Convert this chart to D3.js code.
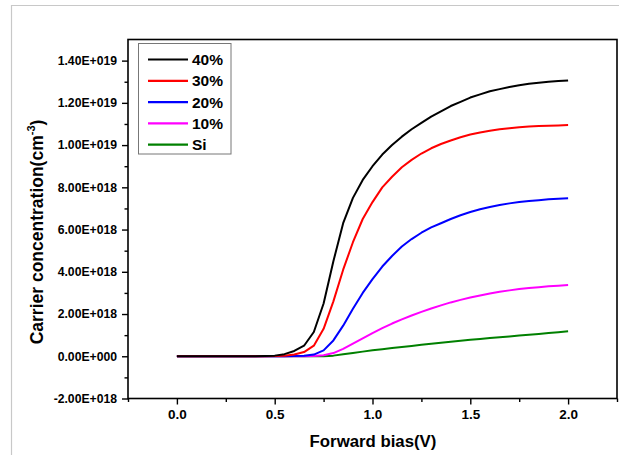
<!DOCTYPE html>
<html>
<head>
<meta charset="utf-8">
<script src="https://cdn.jsdelivr.net/npm/d3@7"></script>
<style>
  html, body { margin: 0; padding: 0; background: #fff; }
  svg { display: block; font-family: "Liberation Sans", Arial, sans-serif; }
</style>
</head>
<body>
<svg id="chart" width="619" height="455"></svg>
<script>
// Forward bias sweep (V)
const bias = [0.00,0.05,0.10,0.15,0.20,0.25,0.30,0.35,0.40,0.45,
              0.50,0.55,0.60,0.65,0.70,0.75,0.80,0.85,0.90,0.95,
              1.00,1.05,1.10,1.15,1.20,1.25,1.30,1.35,1.40,1.45,
              1.50,1.55,1.60,1.65,1.70,1.75,1.80,1.85,1.90,1.95,2.00];

// Carrier concentration, in units of 1e18 cm^-3
const conc40 = [0,0,0,0,0,0,0,0,0,0.01,
                0.03,0.10,0.25,0.50,1.15,2.50,4.50,6.30,7.50,8.35,
                9.00,9.55,10.00,10.40,10.75,11.05,11.35,11.60,11.85,12.05,
                12.25,12.40,12.55,12.65,12.75,12.83,12.90,12.95,13.00,13.03,13.06];
const conc30 = [0,0,0,0,0,0,0,0,0,0,
                0.01,0.03,0.08,0.20,0.50,1.30,2.60,4.10,5.40,6.50,
                7.30,8.00,8.50,8.95,9.30,9.60,9.85,10.05,10.22,10.37,
                10.50,10.60,10.68,10.75,10.80,10.85,10.88,10.90,10.92,10.93,10.95];
const conc20 = [0,0,0,0,0,0,0,0,0,0,
                0,0,0.01,0.03,0.08,0.28,0.75,1.45,2.25,3.00,
                3.65,4.25,4.75,5.20,5.55,5.85,6.10,6.30,6.50,6.68,
                6.83,6.96,7.07,7.16,7.24,7.30,7.35,7.39,7.43,7.46,7.48];
const conc10 = [0,0,0,0,0,0,0,0,0,0,
                0,0,0,0,0.01,0.05,0.15,0.35,0.60,0.85,
                1.10,1.33,1.55,1.75,1.93,2.10,2.26,2.41,2.55,2.67,
                2.78,2.88,2.97,3.05,3.12,3.18,3.23,3.27,3.31,3.34,3.37];
const concSi = [0,0,0,0,0,0,0,0,0,0,
                0,0,0,0,0,0,0.03,0.10,0.16,0.22,
                0.28,0.33,0.39,0.44,0.49,0.54,0.59,0.64,0.69,0.73,
                0.78,0.82,0.86,0.90,0.94,0.98,1.02,1.06,1.10,1.14,1.18];

const seriesNames  = ["40%", "30%", "20%", "10%", "Si"];
const seriesValues = [conc40, conc30, conc20, conc10, concSi];
const seriesColors = ["#000000", "#ff0000", "#0000ff", "#ff00ff", "#008000"];

const xTicks      = [0.0, 0.5, 1.0, 1.5, 2.0];
const xMinorTicks = [-0.25, 0.25, 0.75, 1.25, 1.75, 2.25];
const yTicks      = [-2, 0, 2, 4, 6, 8, 10, 12, 14];
const yMinorTicks = [-1, 1, 3, 5, 7, 9, 11, 13];

const svg = d3.select("#chart");

// page border
svg.append("path")
  .attr("d", "M11.5,455 V5.5 H619")
  .attr("fill", "none")
  .attr("stroke", "#c8c8c8")
  .attr("stroke-width", 1.2);

const plot = { left: 128, right: 617, top: 39.5, bottom: 398.5 };

const x = d3.scaleLinear().domain([-0.25, 2.25]).range([plot.left, plot.right]);
const y = d3.scaleLinear().domain([-2, 15]).range([plot.bottom, plot.top]);

// 1e18-unit value -> "1.40E+019" style label
function sci(v) {
  if (v === 0) return "0.00E+000";
  const val = v * 1e18;
  const sign = val < 0 ? "-" : "";
  const a = Math.abs(val);
  const e = Math.floor(Math.log10(a) + 1e-9);
  const m = a / Math.pow(10, e);
  return sign + m.toFixed(2) + "E" + (e >= 0 ? "+" : "-") + String(Math.abs(e)).padStart(3, "0");
}

// axes
const gx = svg.append("g").attr("transform", `translate(0,${plot.bottom})`)
  .call(d3.axisBottom(x).tickValues(xTicks).tickFormat(d3.format(".1f")).tickSize(6).tickSizeOuter(0).tickPadding(5));
const gxm = svg.append("g").attr("transform", `translate(0,${plot.bottom})`)
  .call(d3.axisBottom(x).tickValues(xMinorTicks).tickFormat("").tickSize(3.5).tickSizeOuter(0));
const gy = svg.append("g").attr("transform", `translate(${plot.left},0)`)
  .call(d3.axisLeft(y).tickValues(yTicks).tickFormat(sci).tickSize(6).tickSizeOuter(0).tickPadding(5));
const gym = svg.append("g").attr("transform", `translate(${plot.left},0)`)
  .call(d3.axisLeft(y).tickValues(yMinorTicks).tickFormat("").tickSize(3.5).tickSizeOuter(0));

[gx, gxm, gy, gym].forEach(g => {
  g.select(".domain").remove();
  g.selectAll(".tick line").attr("stroke", "#000").attr("stroke-width", 1.4);
});
gx.selectAll("text").attr("font-size", 13.5).attr("font-weight", "bold").attr("fill", "#000")
  .attr("font-family", "'Liberation Sans', Arial, sans-serif");
gy.selectAll("text").attr("font-size", 12.2).attr("font-weight", "bold").attr("fill", "#000")
  .attr("font-family", "'Liberation Sans', Arial, sans-serif");

// curves
const line = d3.line()
  .x((d, i) => x(bias[i]))
  .y(d => y(d));

svg.append("g").selectAll("path")
  .data(seriesValues.slice().reverse())
  .join("path")
  .attr("d", d => line(d))
  .attr("fill", "none")
  .attr("stroke", (d, i) => seriesColors[seriesColors.length - 1 - i])
  .attr("stroke-width", 2)
  .attr("stroke-linejoin", "round");

// plot frame
svg.append("rect")
  .attr("x", plot.left).attr("y", plot.top)
  .attr("width", plot.right - plot.left).attr("height", plot.bottom - plot.top)
  .attr("fill", "none").attr("stroke", "#000").attr("stroke-width", 1.6);

// legend
const lg = svg.append("g");
lg.append("rect")
  .attr("x", 138.5).attr("y", 43.5).attr("width", 92.5).attr("height", 110.5)
  .attr("fill", "#fff").attr("stroke", "#777").attr("stroke-width", 1);
seriesNames.forEach((name, i) => {
  const cy = 59.5 + i * 21.3;
  lg.append("line")
    .attr("x1", 148).attr("x2", 188).attr("y1", cy).attr("y2", cy)
    .attr("stroke", seriesColors[i]).attr("stroke-width", 2.2);
  lg.append("text")
    .attr("x", 192).attr("y", cy + 5.5)
    .attr("font-size", 15.5).attr("font-weight", "bold").attr("fill", "#000")
    .text(name);
});

// axis titles
svg.append("text")
  .attr("x", 373).attr("y", 447)
  .attr("text-anchor", "middle")
  .attr("font-size", 16.8).attr("font-weight", "bold")
  .text("Forward bias(V)");

const yt = svg.append("text")
  .attr("transform", "translate(43,232) rotate(-90)")
  .attr("text-anchor", "middle")
  .attr("font-size", 17.5).attr("font-weight", "bold");
yt.append("tspan").text("Carrier concentration(cm");
yt.append("tspan").attr("font-size", 11).attr("dy", -8).text("-3");
yt.append("tspan").attr("dy", 8).text(")");
</script>
</body>
</html>
